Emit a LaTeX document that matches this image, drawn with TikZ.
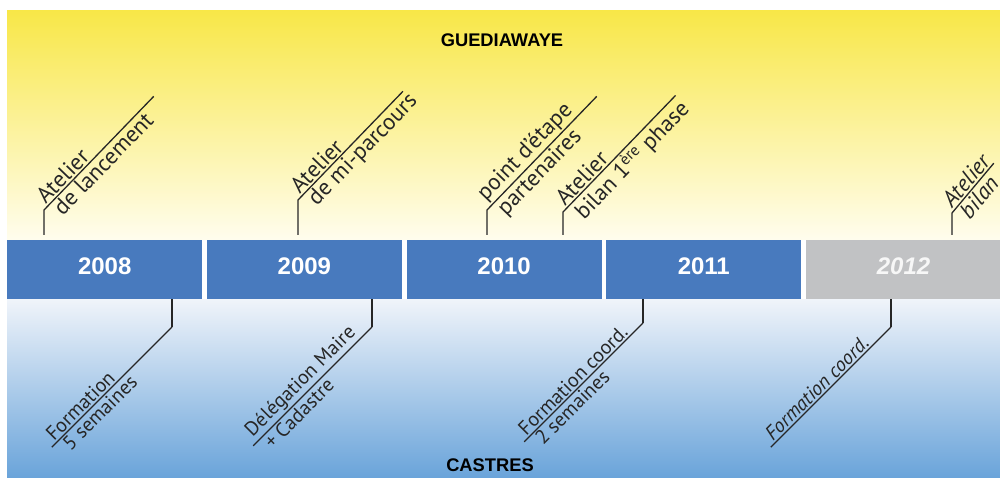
\documentclass[tikz,border=0pt]{standalone}
\usepackage{fontspec}
\setmainfont{PT Sans}
\newfontfamily\arialfont{Liberation Sans}
\usetikzlibrary{positioning,calc}

\definecolor{sunyellow}{RGB}{248,231,72}
\definecolor{paleyellow}{RGB}{255,253,238}
\definecolor{paleblue}{RGB}{240,244,250}
\definecolor{skyblue}{RGB}{106,164,218}
\definecolor{barblue}{RGB}{72,122,190}
\definecolor{bargray}{RGB}{193,194,196}

\begin{document}
\begin{tikzpicture}[x=1pt, y=1pt,
  node distance=4.3pt,
  yearbox/.style={rectangle, fill=barblue, minimum width=195pt,
                  minimum height=59pt, inner sep=0pt, text=white, text depth=7pt,
                  font=\arialfont\bfseries\fontsize{24}{24}\selectfont},
  futurebox/.style={yearbox, fill=bargray, text=white!94!gray,
                  font=\arialfont\bfseries\itshape\fontsize{24}{24}\selectfont},
  city/.style={font=\arialfont\bfseries\fontsize{18.3}{20}\selectfont},
  lead/.style={line width=1.3pt, black!85},
  uptxt/.style={sloped, anchor=south west, inner sep=1.5pt,
                font=\fontsize{22.8}{24}\selectfont},
  dntxt/.style={sloped, anchor=north west, inner sep=1.5pt,
                font=\fontsize{22.8}{24}\selectfont},
  lowup/.style={uptxt, font=\fontsize{20}{22}\selectfont},
  lowdn/.style={dntxt, font=\fontsize{20}{22}\selectfont}
]
\useasboundingbox (0,0) rectangle (1000,477);

% background bands
\shade[top color=sunyellow, bottom color=paleyellow] (7,237) rectangle (1000,466);
\shade[top color=paleblue, bottom color=skyblue] (7,0) rectangle (1000,178);

\node[city] (guedia) at (502,437) {GUEDIAWAYE};
\node[city] (castres) at (490,12) {CASTRES};

% the years
\node[yearbox, anchor=south west] (y2008) at (7,178) {2008};
\node[yearbox, right=of y2008] (y2009) {2009};
\node[yearbox, right=of y2009] (y2010) {2010};
\node[yearbox, right=of y2010] (y2011) {2011};
\node[futurebox, right=of y2011] (y2012) {2012};

% Guediawaye events
\coordinate (lanc) at (44,242);
\coordinate (mipa) at (298,242);
\coordinate (etap) at (487,242);
\coordinate (bila) at (563,242);
\coordinate (bfin) at (952,242);

\draw[lead] (lanc) -- ++(0,25) -- ++(46:158)
  node[uptxt, pos=0.02] {Atelier}
  node[dntxt, pos=0.04] {de lancement};
\draw[lead] (mipa) -- ++(0,35) -- ++(46:151)
  node[uptxt, pos=0.02] {Atelier}
  node[dntxt, pos=0.04] {de mi-parcours};
\draw[lead] (etap) -- ++(0,25) -- ++(46:158)
  node[uptxt, pos=0.02] {point d'étape}
  node[dntxt, pos=0.04] {partenaires};
\draw[lead] (bila) -- ++(0,23) -- ++(46:162)
  node[uptxt, pos=0.02] {Atelier}
  node[dntxt, pos=0.04] {bilan 1\textsuperscript{ère} phase};
\draw[lead] (bfin) -- ++(0,22) -- ++(50:65)
  node[uptxt, pos=0.02] {\itshape Atelier}
  node[dntxt, pos=0.06] {\itshape bilan};

% Castres events
\coordinate (form) at (172,178);
\coordinate (dele) at (372,178);
\coordinate (coor) at (643,178);
\coordinate (cfin) at (891,178);

\draw[lead] (form) -- ++(0,-28) coordinate (formk);
\draw[lead] (formk) ++(225:170) coordinate (forme) -- (formk)
  node[lowup, pos=0.02] {Formation}
  node[lowdn, pos=0.05] {5 semaines};
\draw[lead] (dele) -- ++(0,-28) coordinate (delek);
\draw[lead] (delek) ++(225:168) coordinate (delee) -- (delek)
  node[lowup, pos=0.02] {Délégation Maire}
  node[lowdn, pos=0.05] {+ Cadastre};
\draw[lead] (coor) -- ++(0,-24) coordinate (coork);
\draw[lead] (coork) ++(225:168) coordinate (coore) -- (coork)
  node[lowup, pos=0.02] {Formation coord.}
  node[lowdn, pos=0.05] {2 semaines};
\draw[lead] (cfin) -- ++(0,-28) coordinate (cfink);
\draw[lead] (cfink) ++(225:170) coordinate (cfine) -- (cfink)
  node[lowup, pos=0.02] {\itshape Formation coord.};
\end{tikzpicture}
\end{document}
